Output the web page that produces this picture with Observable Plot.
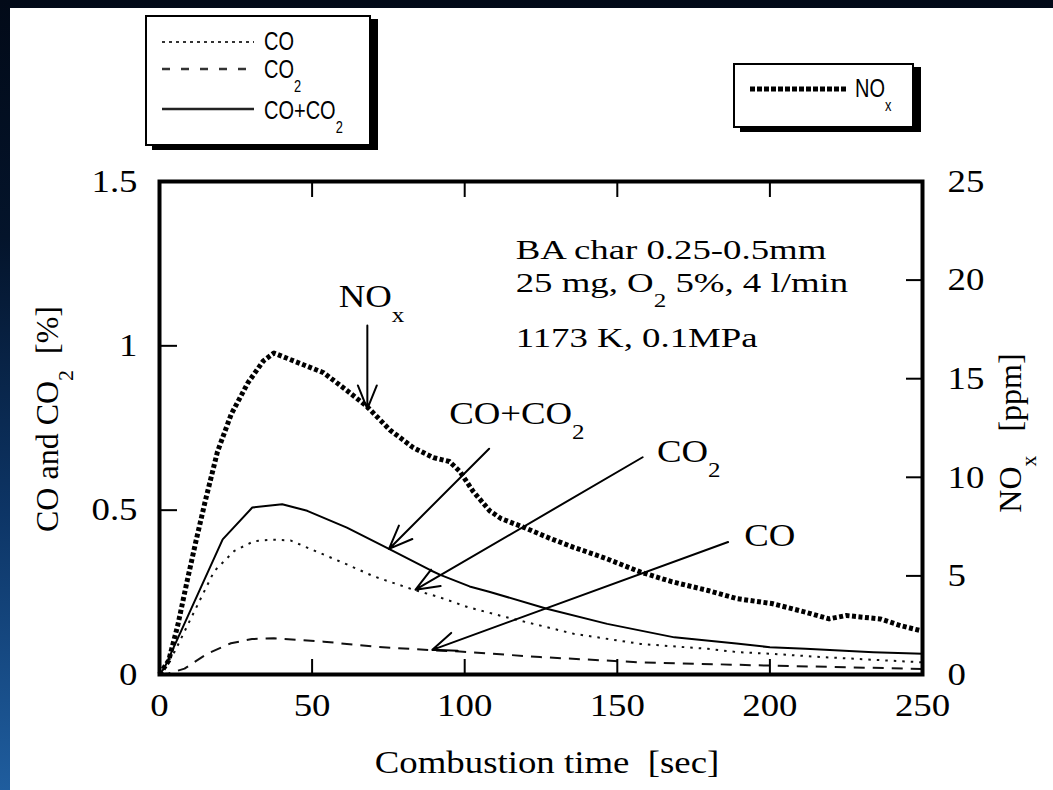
<!DOCTYPE html>
<html><head><meta charset="utf-8">
<script src="https://cdn.jsdelivr.net/npm/d3@7"></script>
<script src="https://cdn.jsdelivr.net/npm/@observablehq/plot@0.6"></script>
<style>
html,body{margin:0;padding:0;width:1053px;height:790px;overflow:hidden;}
body{position:relative;background:linear-gradient(to bottom,#020a18 0%,#04142b 30%,#0d3566 65%,#1f5d9e 100%);font-family:"Liberation Serif",serif;}
#panel{position:absolute;left:10px;top:8px;right:0;bottom:0;background:#fff;}
#chart{position:absolute;left:0;top:150px;width:1053px;height:640px;}
.box{position:absolute;box-sizing:border-box;border:2px solid #000;background:#fff;box-shadow:7px 4px 0 0 #000;}
.sw{position:absolute;overflow:visible;}
.lt{position:absolute;font-family:"Liberation Sans",Arial,sans-serif;font-size:25px;line-height:25px;transform:scaleX(0.8);transform-origin:0 0;white-space:nowrap;color:#000;}
.lt .s{font-size:16px;position:relative;top:14px;}
</style></head>
<body>
<div id="panel"></div>
<div class="box" style="left:145px;top:15px;width:226px;height:131px"></div>
<svg class="sw" style="left:160px;top:36px" width="96" height="12"><line x1="2" x2="94" y1="6" y2="6" stroke="#333" stroke-width="2" stroke-dasharray="3,4"/></svg>
<div class="lt" style="left:264px;top:29px">CO</div>
<svg class="sw" style="left:160px;top:63px" width="96" height="12"><line x1="2" x2="94" y1="6" y2="6" stroke="#333" stroke-width="2.5" stroke-dasharray="8,11"/></svg>
<div class="lt" style="left:264px;top:57px">CO<span class="s">2</span></div>
<svg class="sw" style="left:160px;top:103px" width="96" height="12"><line x1="2" x2="94" y1="6" y2="6" stroke="#222" stroke-width="2.5"/></svg>
<div class="lt" style="left:264px;top:98px">CO+CO<span class="s">2</span></div>
<div class="box" style="left:733px;top:63px;width:181px;height:65px"></div>
<svg class="sw" style="left:748px;top:83px" width="102" height="12"><line x1="2" x2="99" y1="6" y2="6" stroke="#000" stroke-width="5" stroke-dasharray="5,2"/></svg>
<div class="lt" style="left:855px;top:76px">NO<span class="s">x</span></div>
<div id="chart"></div>
<script>
// Combustion time [sec] and NOx [ppm]
const noxTime = [0,3,6,9,12,15,19,23.5,29,34,37.5,44,53.8,61.4,67.9,75.5,83.2,89.7,95,98.4,102.7,108.2,112,119.2,128,135.7,146,157.7,168,179.7,189.4,200.6,211.7,219.4,225,236.1,242.8,250];
const noxPpm  = [0,0.7,2.5,4.7,6.8,8.8,11.3,13.2,14.8,15.9,16.3,15.9,15.3,14.4,13.6,12.4,11.5,11.0,10.8,10.3,9.3,8.3,7.9,7.47,6.9,6.45,5.9,5.19,4.7,4.26,3.84,3.6,3.16,2.82,2.99,2.82,2.48,2.2];
// CO+CO2 [%]
const sumTime = [0,1.6,20.7,30.4,40.2,48.4,61.4,75.5,88.6,92,101.6,108,126.9,146.7,168.7,189,200,211.7,233.9,250];
const sumPct  = [0,0.02,0.411,0.508,0.518,0.498,0.447,0.381,0.318,0.303,0.268,0.252,0.2,0.154,0.113,0.094,0.083,0.078,0.068,0.063];
// CO [%]
const coTime = [0,5,10.3,17.9,24.5,31,37,42.9,48.4,61.4,70.1,83.2,91.8,101,113.7,135.7,157.7,179.7,189.4,200.5,217,250];
const coPct  = [0,0.07,0.171,0.314,0.376,0.406,0.41,0.408,0.386,0.335,0.299,0.258,0.235,0.205,0.174,0.124,0.093,0.078,0.068,0.063,0.053,0.037];
// CO2 [%]
const co2Time = [0,3,8.2,15.8,23.4,30.3,37.5,53.8,70.1,88.6,98.4,124.7,157.7,200,250];
const co2Pct  = [0,0.003,0.018,0.064,0.095,0.108,0.11,0.1,0.085,0.074,0.07,0.053,0.037,0.027,0.017];

// axes
const xTicks = [0,50,100,150,200,250];
const yTicks = [0,0.5,1,1.5];
const noxTicks = [0,5,10,15,20,25];
const xLabel = "Combustion time\u00a0\u00a0[sec]";
const yLabel = "CO and CO_2\u00a0\u00a0[%]";
const y2Label = "NO_x\u00a0\u00a0\u00a0[ppm]";
const NOX_MAX = 25, Y_MAX = 1.5;
const k = Y_MAX / NOX_MAX;

// annotations (arrows from label to curve)
const annLabels = ["NO_x","CO+CO_2","CO_2","CO"];
const annLabelT = [58.7, 94.9, 163, 191.6];
const annLabelV = [1.117, 0.763, 0.646, 0.392];
const arrowT1 = [68.1, 108, 158.3, 186.3];
const arrowV1 = [1.062, 0.687, 0.661, 0.403];
const arrowT2 = [68.1, 75.2, 83.9, 89.4];
const arrowV2 = [0.808, 0.382, 0.258, 0.075];
// conditions text
const infoLines = ["BA char 0.25-0.5mm", "25 mg, O_2 5%, 4 l/min", "1173 K, 0.1MPa"];
const infoT = [116.7, 116.7, 116.7];
const infoV = [1.263, 1.163, 0.996];

const noxData = noxTime.map((t,i)=>({t, v: noxPpm[i]*k}));
const sumData = sumTime.map((t,i)=>({t, v: sumPct[i]}));
const coData = coTime.map((t,i)=>({t, v: coPct[i]}));
const co2Data = co2Time.map((t,i)=>({t, v: co2Pct[i]}));
const arrows = arrowT1.map((t,i)=>({x1:t, y1:arrowV1[i], x2:arrowT2[i], y2:arrowV2[i]}));
const labels = annLabels.map((s,i)=>({s, t:annLabelT[i], v:annLabelV[i]}));
const info = infoLines.map((s,i)=>({s, t:infoT[i], v:infoV[i]}));

const plot = Plot.plot({
  width: 1053, height: 640,
  marginLeft: 159, marginRight: 131, marginTop: 31, marginBottom: 116,
  style: {background: "transparent", fontFamily: "Liberation Serif, serif", fontSize: "32px", color: "#000", overflow: "visible"},
  x: {domain: [0, 250]},
  y: {domain: [0, Y_MAX]},
  marks: [
    Plot.line(coData, {x: "t", y: "v", stroke: "#111", strokeWidth: 2, strokeDasharray: "2.5,6", strokeLinecap: "butt"}),
    Plot.line(co2Data, {x: "t", y: "v", stroke: "#111", strokeWidth: 2, strokeDasharray: "11,8", strokeLinecap: "butt"}),
    Plot.line(sumData, {x: "t", y: "v", stroke: "#000", strokeWidth: 2}),
    Plot.line(noxData, {x: "t", y: "v", stroke: "#000", strokeWidth: 5, strokeDasharray: "4,2.5", strokeLinecap: "butt"}),
    Plot.arrow(arrows, {x1: "x1", y1: "y1", x2: "x2", y2: "y2", stroke: "#000", strokeWidth: 2, headLength: 19, headAngle: 44}),
    Plot.text(labels, {x: "t", y: "v", text: "s", textAnchor: "start", lineAnchor: "bottom", fontSize: 32, fill: "#000"}),
    Plot.text(info, {x: "t", y: "v", text: "s", textAnchor: "start", lineAnchor: "bottom", fontSize: 28, fill: "#000"}),
    Plot.axisX({anchor: "bottom", ticks: xTicks, tickFormat: d => String(d), tickSize: -15, tickPadding: 34, strokeWidth: 2, label: null}),
    Plot.axisX({anchor: "top", ticks: xTicks, tickFormat: () => null, tickSize: -15, strokeWidth: 2, label: null}),
    Plot.axisY({anchor: "left", ticks: yTicks, tickFormat: d => String(d), tickSize: -18, tickPadding: 40, strokeWidth: 2, label: null}),
    Plot.axisY({anchor: "right", ticks: noxTicks.map(d => d*k), tickFormat: d => String(Math.round(d/k)), tickSize: -17, tickPadding: 42, strokeWidth: 2, label: null}),
    Plot.text([xLabel], {frameAnchor: "bottom", text: d => d, textAnchor: "middle", dx: 6, dy: 98, lineAnchor: "bottom", fontSize: 32}),
    Plot.text([yLabel], {frameAnchor: "left", text: d => d, textAnchor: "middle", rotate: -90, dx: -102, dy: -9, lineAnchor: "bottom", fontSize: 32}),
    Plot.text([y2Label], {frameAnchor: "right", text: d => d, textAnchor: "middle", rotate: -90, dx: 98, dy: 5, lineAnchor: "bottom", fontSize: 32}),
    Plot.frame({stroke: "#000", strokeWidth: 4})
  ]
});
document.getElementById("chart").append(plot);

const plain = s => s.replace(/_/g, "");
const infoPlain = infoLines.map(plain);
const rotatedPlain = [yLabel, y2Label].map(plain);

// subscripts: "_c" -> lowered smaller character
const NS = "http://www.w3.org/2000/svg";
plot.querySelectorAll("text").forEach(t => {
  const s = t.textContent;
  if (!s.includes("_")) return;
  const parts = s.split(/_(.)/);
  t.textContent = "";
  let prevSub = false;
  parts.forEach((p, i) => {
    if (!p) return;
    const ts = document.createElementNS(NS, "tspan");
    ts.textContent = p;
    if (i % 2 === 1) { ts.setAttribute("font-size", "0.68em"); ts.setAttribute("dy", "15"); prevSub = true; }
    else if (prevSub) { ts.setAttribute("dy", "-15"); prevSub = false; }
    t.append(ts);
  });
});
// the scanned figure is slightly stretched horizontally
plot.querySelectorAll("text").forEach(t => {
  const s = t.textContent;
  if (!s) return;
  if (rotatedPlain.includes(s)) return;
  const f = infoPlain.includes(s) ? 1.15 * 32 / 28 : 1.15;
  const L = t.getComputedTextLength();
  t.setAttribute("textLength", (L * f).toFixed(1));
  t.setAttribute("lengthAdjust", "spacingAndGlyphs");
});
</script>
</body></html>
